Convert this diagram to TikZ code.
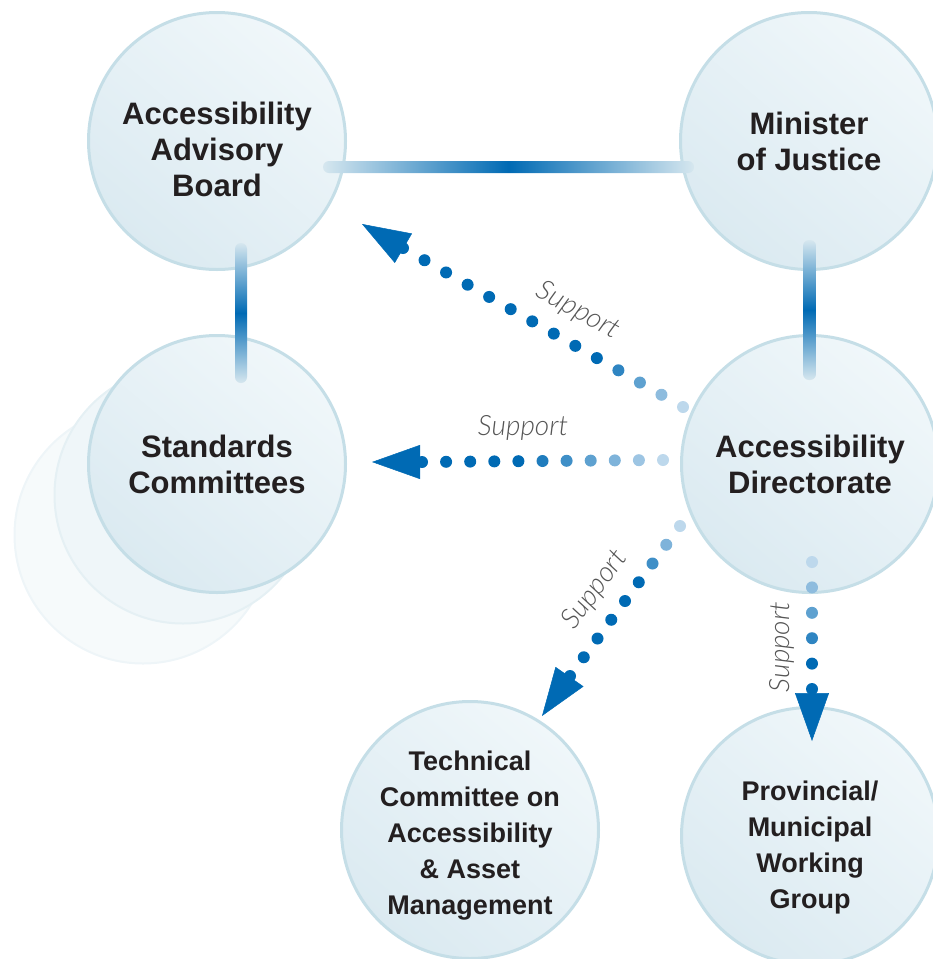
\documentclass[tikz,border=0pt]{standalone}
\usepackage{fontspec}
\setmainfont{Liberation Sans}
\newfontfamily\supportfont{Lato Light Italic}
\usetikzlibrary{arrows.meta}
\usetikzlibrary{calc}
\usetikzlibrary{positioning}
\definecolor{supblue}{RGB}{0,106,180}
\definecolor{dotlight}{RGB}{222,235,246}
\definecolor{circtop}{RGB}{240,247,250}
\definecolor{circbot}{RGB}{219,234,241}
\definecolor{circedge}{RGB}{197,222,231}
\definecolor{textdark}{RGB}{35,31,32}
\definecolor{barend}{RGB}{214,231,239}
\definecolor{labelgray}{RGB}{85,85,85}
\tikzset{unit/.style = {circle, minimum size = 257, inner sep = 0,
                        draw = circedge, line width = 3,
                        top color = circtop, bottom color = circbot, shading angle = -40,
                        text = textdark, align = center,
                        font = \bfseries\fontsize{31}{36}\selectfont}}
\tikzset{smallunit/.style = {unit, font = \bfseries\fontsize{27}{36}\selectfont}}
\tikzset{ghost/.style = {circle, minimum size = 257, inner sep = 0, line width = 2}}
\tikzset{support/.style = {text = labelgray, font = \supportfont\fontsize{28}{28}\selectfont}}
\tikzset{tip/.style = {supblue, line width = 0.5, -{Triangle[length = 48pt, width = 34pt]}}}
% dots from #1 to #2, head at #3, last index #4, fading over #5 dots
\newcommand\supportdots[5]{%
  \foreach \i in {0,...,#4} {%
    \pgfmathsetmacro\pct{min(100, 15 + \i*85/#5)}
    \fill [supblue!\pct!dotlight] ($(#1)!\i/#4!(#2)$) circle (6pt);
  }
  \draw [tip] (#2) -- (#3);
}

\begin{document}
\begin{tikzpicture}[x = 1pt, y = -1pt]
    \useasboundingbox (0, 0) rectangle (933, 959);
    \clip (0, 0) rectangle (933, 959);

    % the two faded copies behind the standards committees
    \node [ghost, fill = circbot!25!white, draw = circedge!30!white] (ghostb) at (143, 535) {};
    \node [ghost, fill = circbot!45!white, draw = circedge!45!white] (ghosta) at (183, 495) {};

    \node [unit] (adv) at (217, 141) {\rule{0pt}{39pt}Accessibility\\Advisory\\Board};
    \node [unit] (min) at (809, 141) {Minister\\of Justice};
    \node [unit] (std) at (217, 464) {Standards\\Committees};
    \node [unit] (dir) at (810, 464) {Accessibility\\Directorate};
    \node [smallunit] (tech) at (470, 830) {\rule{0pt}{30pt}Technical\\Committee on\\Accessibility\\\& Asset\\Management};
    \node [smallunit] (prov) at (810, 836) {\rule{0pt}{42pt}Provincial/\\Municipal\\Working\\Group};

    % reporting bars
    \shade [left color = barend, right color = barend, middle color = supblue, rounded corners = 6]
        ($(adv) + (106, 20)$) rectangle ($(min) + (-115, 32)$);
    \shade [top color = barend, bottom color = barend, middle color = supblue, rounded corners = 6]
        ($(adv) + (18, 102)$) rectangle ($(std) + (30, -81)$);
    \shade [top color = barend, bottom color = barend, middle color = supblue, rounded corners = 6]
        ($(min) + (-6, 99)$) rectangle ($(dir) + (6, -84)$);

    % support arrows
    \coordinate (a1s) at ($(dir) + (-127, -57)$);
    \coordinate (a1e) at ($(adv) + (186, 107)$);
    \coordinate (a1t) at ($(adv) + (145, 83)$);
    \supportdots{a1s}{a1e}{a1t}{13}{4}

    \coordinate (a2s) at ($(dir) + (-147, -4)$);
    \coordinate (a2e) at ($(std) + (205, -2)$);
    \coordinate (a2t) at ($(std) + (155, -2)$);
    \supportdots{a2s}{a2e}{a2t}{10}{6}

    \coordinate (a3s) at ($(dir) + (-130, 62)$);
    \coordinate (a3e) at ($(tech) + (100, -154)$);
    \coordinate (a3t) at ($(tech) + (72, -114)$);
    \supportdots{a3s}{a3e}{a3t}{8}{3}

    \coordinate (a4s) at ($(dir) + (2, 98)$);
    \coordinate (a4e) at ($(prov) + (2, -147)$);
    \coordinate (a4t) at ($(prov) + (2, -95)$);
    \supportdots{a4s}{a4e}{a4t}{5}{4}

    \node [support, rotate = -29] (sup1) at (578, 311) {Support};
    \node [support] (sup2) at (523, 428) {Support};
    \node [support, rotate = 54] (sup3) at (595, 590) {Support};
    \node [support, rotate = 90] (sup4) at (782, 647) {Support};
  \end{tikzpicture}
\end{document}
